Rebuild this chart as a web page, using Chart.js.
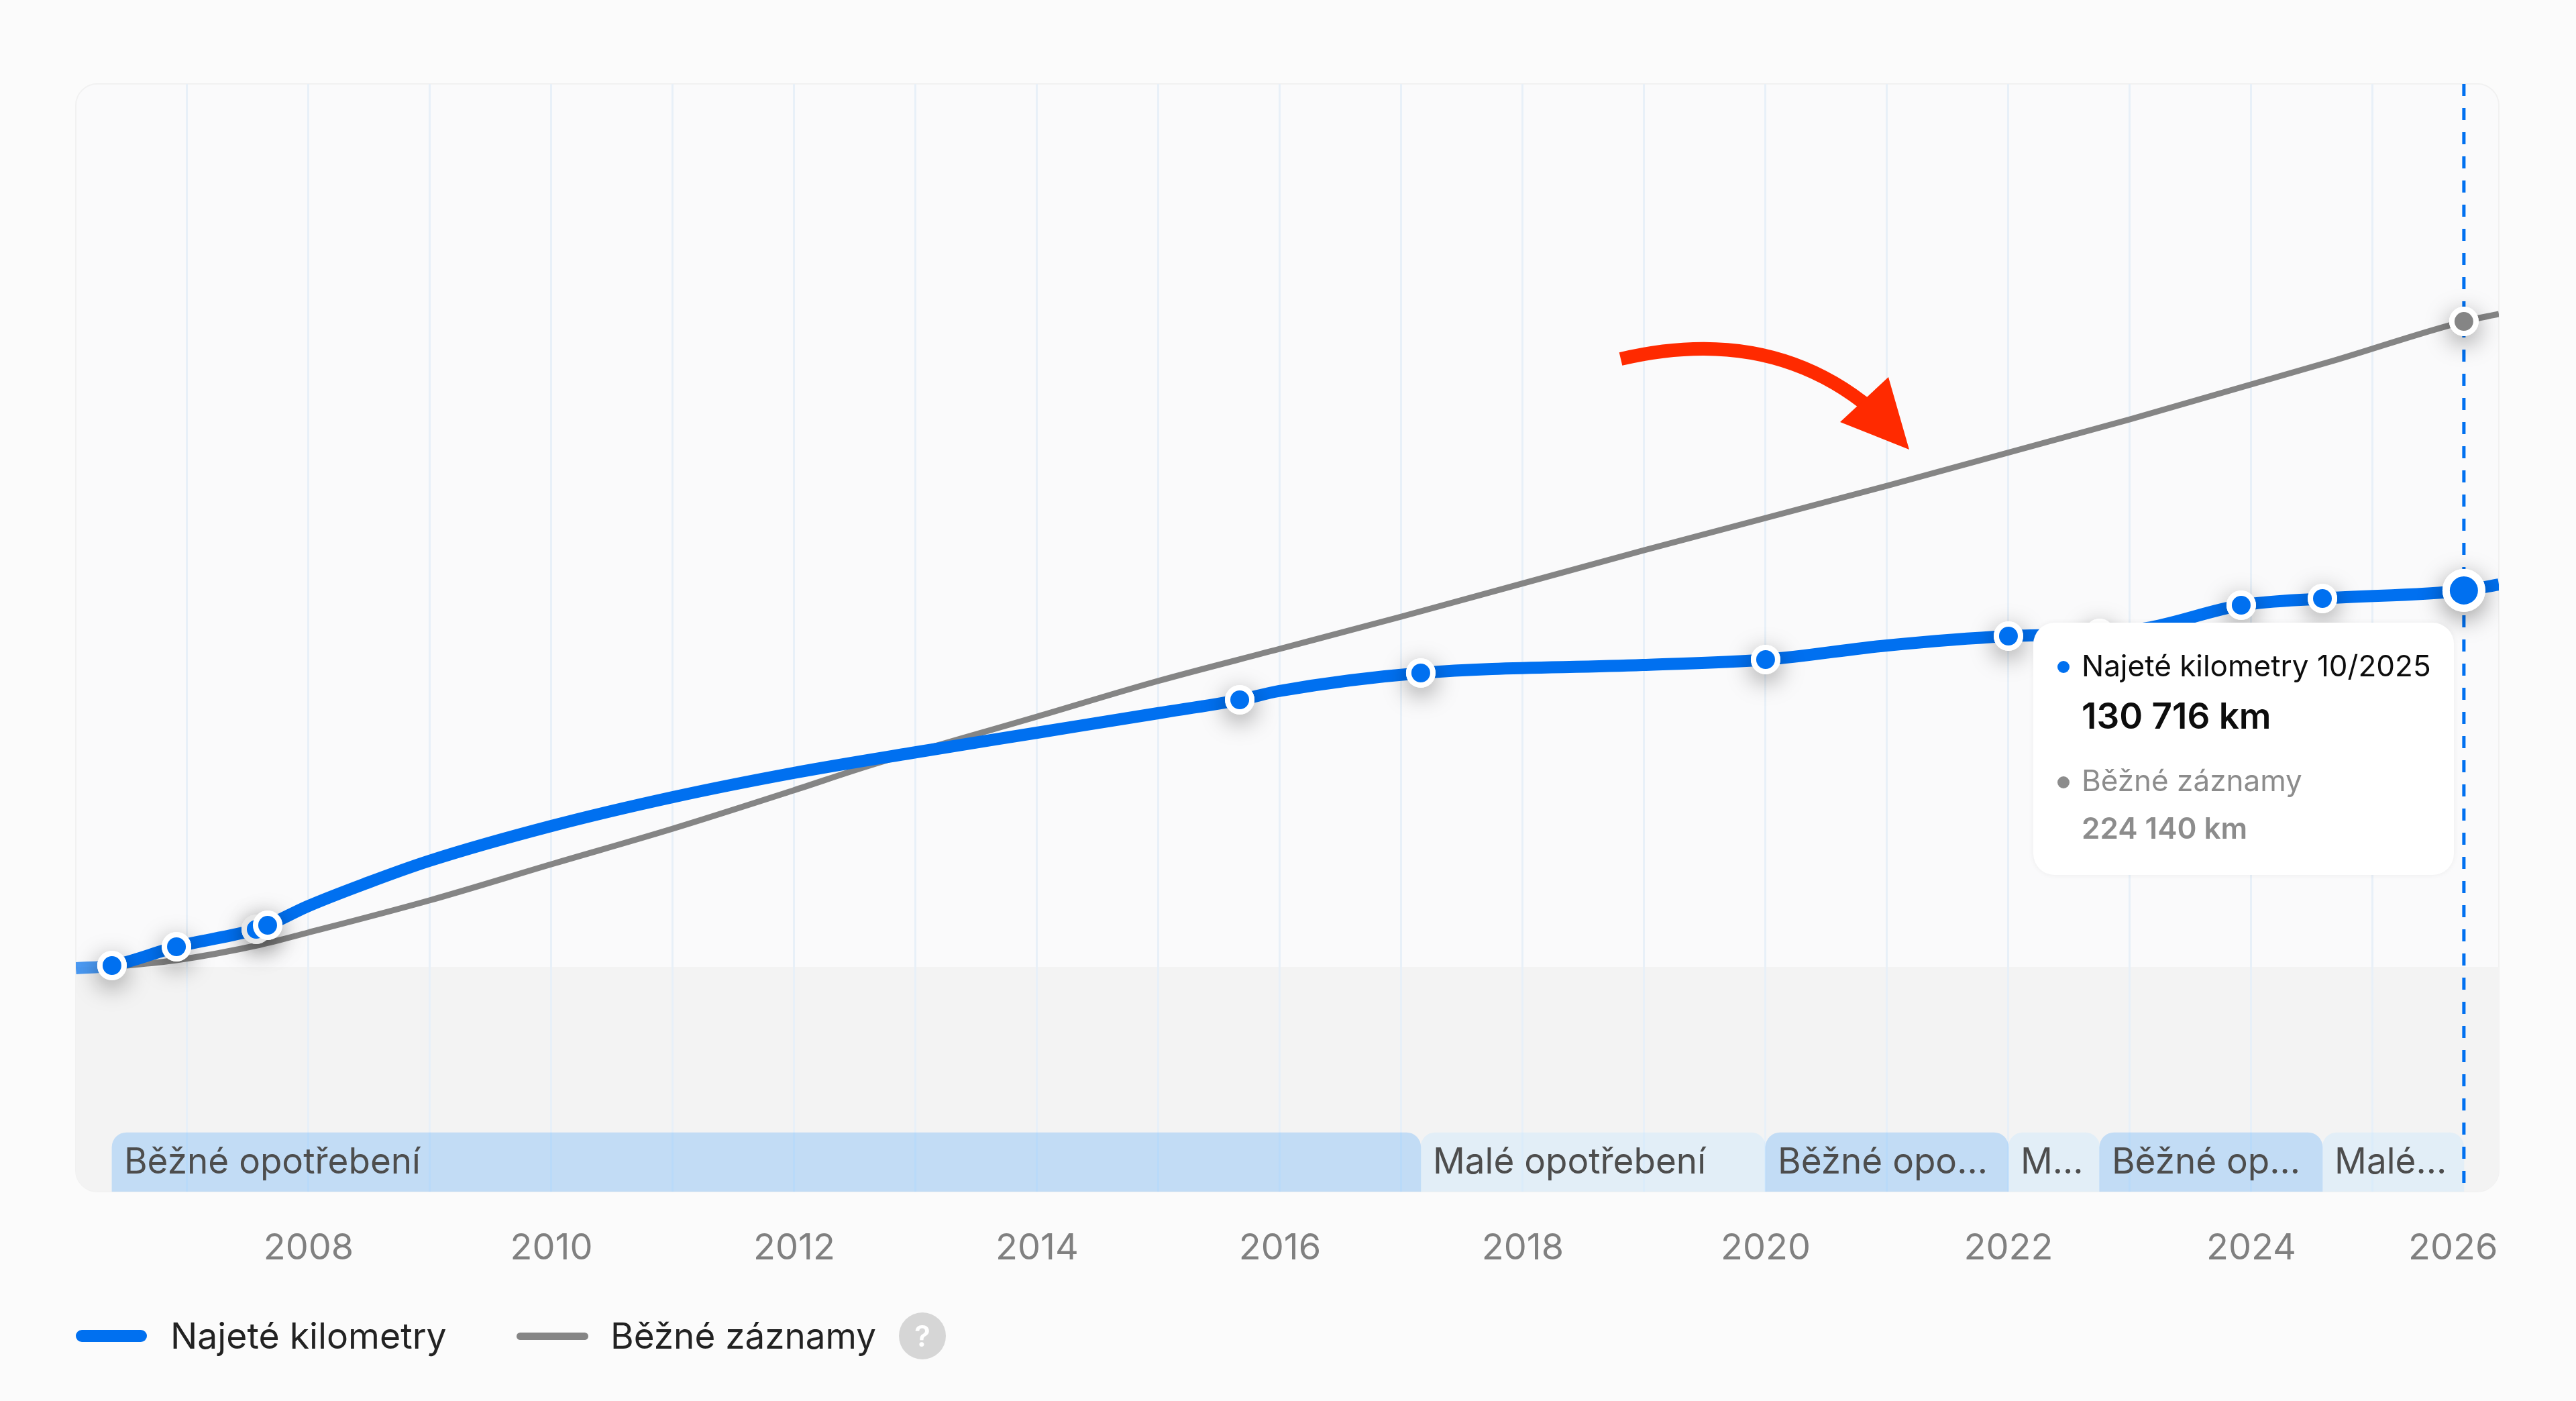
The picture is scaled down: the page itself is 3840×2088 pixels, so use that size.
<!DOCTYPE html>
<html lang="cs">
<head>
<meta charset="utf-8">
<title>Najeté kilometry</title>
<script src="https://cdn.jsdelivr.net/npm/chart.js@4"></script>
<style>
  html, body { margin: 0; padding: 0; width: 3840px; height: 2088px; overflow: hidden; background: #fbfbfb; font-family: Inter, sans-serif; }
  #graf { position: absolute; left: 0; top: 0; }
  .txt { position: absolute; white-space: nowrap; line-height: 60px; }
  #bublina { position: absolute; left: 3031px; top: 928px; width: 627px; height: 376px; background: #fff; border-radius: 32px; box-shadow: 0 0 8px rgba(0,0,0,.06); }
  .tecka { position: absolute; width: 18px; height: 18px; border-radius: 50%; }
  .vzorek { position: absolute; border-radius: 9px; }
  #sipka { position: absolute; left: 0; top: 0; }
</style>
</head>
<body>
<canvas id="graf" width="3840" height="2088"></canvas>

<svg id="sipka" width="3840" height="2088">
  <path d="M2416 535 C2535 507 2670 510 2790 610" fill="none" stroke="#ff2a00" stroke-width="20"/>
  <polygon points="2815,562 2846,670 2743,629" fill="#ff2a00"/>
</svg>

<div id="bublina"></div>
<div class="tecka" style="left:3067px;top:985px;background:#0070f0"></div>
<div class="tecka" style="left:3067px;top:1157px;background:#8c8c8c"></div>
<div class="txt" style="left:3103px;top:962px;font-size:44px;color:#0d0d0d">Najeté kilometry 10/2025</div>
<div class="txt" style="left:3103px;top:1037px;font-size:53px;font-weight:600;color:#0d0d0d">130 716 km</div>
<div class="txt" style="left:3103px;top:1133px;font-size:44px;color:#8c8c8c">Běžné záznamy</div>
<div class="txt" style="left:3103px;top:1204px;font-size:44px;font-weight:600;color:#8c8c8c">224 140 km</div>

<div class="vzorek" style="left:113px;top:1982px;width:106px;height:18px;background:#0070f0"></div>
<div class="txt" style="left:254px;top:1961px;font-size:53.5px;color:#222">Najeté kilometry</div>
<div class="vzorek" style="left:770px;top:1986px;width:107px;height:11px;background:#858585"></div>
<div class="txt" style="left:910px;top:1961px;font-size:53px;color:#222">Běžné záznamy</div>
<div style="position:absolute;left:1340px;top:1956px;width:70px;height:70px;border-radius:50%;background:#d6d6d6;color:#fff;font-size:44px;font-weight:600;line-height:70px;text-align:center">?</div>

<script>
// osa X, roky
const tickYears = [2007, 2008, 2009, 2010, 2011, 2012, 2013, 2014, 2015, 2016, 2017, 2018, 2019, 2020, 2021, 2022, 2023, 2024, 2025, 2026];
const osaOd = 2006.083;
const osaDo = 2026.039;
const kmOd = -78055;
const kmDo = 306628;

// najete kilometry - krivka
const mileageYears = [2006.083, 2006.381, 2006.912, 2007.569, 2007.663, 2007.989, 2008.481, 2008.994, 2010.0, 2011.0, 2011.994, 2012.972, 2014.0, 2014.994, 2015.669, 2015.989, 2017.16, 2018.989, 2020.0, 2021.0, 2022.0, 2022.751, 2023.171, 2023.917, 2024.586, 2025.751, 2026.039];
const mileageKm = [-466, 466, 6990, 13048, 14446, 20970, 29125, 36814, 48930, 58949, 67337, 74327, 81317, 88074, 92734, 95763, 102054, 104850, 106714, 111607, 114869, 115801, 117898, 125587, 127917, 130716, 132810];

// bezne zaznamy
const normalYears = [2006.381, 2006.912, 2007.602, 2007.994, 2008.994, 2010.0, 2011.0, 2011.994, 2012.602, 2014.0, 2014.994, 2015.989, 2017.0, 2019.0, 2021.0, 2023.0, 2024.669, 2025.751, 2026.039];
const normalKm = [0, 2330, 7689, 11883, 23067, 35649, 47998, 61279, 69667, 86909, 99258, 110325, 121626, 144693, 167061, 190128, 210399, 224140, 226709];

// zaznamy s teckou
const recordYears = [2006.381, 2006.912, 2007.569, 2007.663, 2015.669, 2017.16, 2020.0, 2022.0, 2022.751, 2023.917, 2024.586, 2025.751];
const recordKm = [466, 6990, 13048, 14446, 92734, 102054, 106714, 114869, 115801, 125587, 127917, 130716];

// pruh opotrebeni
const wearStarts = [2006.381, 2017.16, 2020.0, 2022.0, 2022.751, 2024.586];
const wearEnds = [2017.16, 2020.0, 2022.0, 2022.751, 2024.586, 2025.751];
const wearLabels = ['Běžné opotřebení', 'Malé opotřebení', 'Běžné opo...', 'M...', 'Běžné op...', 'Malé...'];
const wearKinds = ['bezne', 'male', 'bezne', 'male', 'bezne', 'male'];
const wearBandKm = -67803;

const hoverYear = 2025.751;
const hoverNormalKm = 224140;

const modra = '#0070f0';
const seda = '#858585';

function doPar(roky, hodnoty) {
    return roky.map((r, i) => ({x: r, y: hodnoty[i]}));
}

// karta a sede pozadi pod nulou
const pozadiPlugin = {
    id: 'pozadi',
    beforeDraw(chart) {
        const {ctx, chartArea: a, scales} = chart;
        const nula = scales.y.getPixelForValue(0);
        ctx.save();
        ctx.beginPath();
        ctx.roundRect(a.left, a.top, a.right - a.left, a.bottom - a.top, 32);
        ctx.fillStyle = '#fafafb';
        ctx.fill();
        ctx.strokeStyle = '#f1f1f1';
        ctx.lineWidth = 2;
        ctx.stroke();
        ctx.clip();
        ctx.fillStyle = '#f3f3f3';
        ctx.fillRect(a.left, nula, a.right - a.left, a.bottom - nula);
        ctx.restore();
    }
};

// stin pod teckami, jen pro bile podklady
const stinPlugin = {
    id: 'stin',
    beforeDatasetDraw(chart, args) {
        if (chart.data.datasets[args.index].stin) {
            chart.ctx.save();
            chart.ctx.shadowColor = 'rgba(0,0,0,0.4)';
            chart.ctx.shadowBlur = 36;
            chart.ctx.shadowOffsetY = 10;
        }
    },
    afterDatasetDraw(chart, args) {
        if (chart.data.datasets[args.index].stin) {
            chart.ctx.restore();
        }
    }
};

// popisky v pruhu
const popiskyPlugin = {
    id: 'popisky',
    afterDatasetsDraw(chart) {
        const {ctx, scales} = chart;
        const y = scales.y.getPixelForValue(wearBandKm) + 17;
        ctx.save();
        ctx.font = '53px Inter';
        ctx.fillStyle = '#4d4d4d';
        ctx.textBaseline = 'alphabetic';
        wearLabels.forEach((t, i) => {
            ctx.fillText(t, scales.x.getPixelForValue(wearStarts[i]) + 18, y);
        });
        ctx.restore();
    }
};

const posledni = recordYears.length - 1;

new Chart(document.getElementById('graf'), {
    type: 'line',
    data: {
        datasets: [
            {
                type: 'bar',
                indexAxis: 'y',
                order: 8,
                data: wearStarts.map((s, i) => ({x: [s, wearEnds[i]], y: wearBandKm})),
                backgroundColor: wearKinds.map(k => k === 'bezne' ? 'rgba(0,130,255,0.2)' : 'rgba(195,230,255,0.35)'),
                barThickness: 88,
                grouped: false,
                borderSkipped: false,
                borderRadius: {topLeft: 22, topRight: 22, bottomLeft: 0, bottomRight: 0}
            },
            {
                label: 'Kurzor',
                order: 7,
                data: doPar([hoverYear, hoverYear], [kmDo, kmOd]),
                borderColor: modra,
                borderWidth: 5,
                borderDash: [18, 18],
                pointRadius: 0
            },
            {
                label: 'Běžné záznamy',
                order: 6,
                data: doPar(normalYears, normalKm),
                borderColor: seda,
                borderWidth: 9,
                cubicInterpolationMode: 'monotone',
                pointRadius: 0
            },
            {
                label: 'Najeté kilometry',
                order: 5,
                data: doPar(mileageYears, mileageKm),
                borderColor: modra,
                borderWidth: 18,
                cubicInterpolationMode: 'monotone',
                pointRadius: 0,
                segment: {
                    borderColor: c => c.p1DataIndex === 1 ? 'rgba(0,112,240,0.7)' : modra
                }
            },
            {
                label: 'Běžné stín',
                order: 4,
                stin: true,
                showLine: false,
                data: doPar([hoverYear], [hoverNormalKm]),
                pointRadius: 22,
                pointBorderWidth: 0,
                pointBackgroundColor: '#fff'
            },
            {
                label: 'Záznamy stín',
                order: 3,
                stin: true,
                showLine: false,
                data: doPar(recordYears, recordKm),
                pointRadius: c => c.dataIndex === posledni ? 32 : 22,
                pointBorderWidth: 0,
                pointBackgroundColor: '#fff'
            },
            {
                label: 'Běžné bod',
                order: 2,
                showLine: false,
                data: doPar([hoverYear], [hoverNormalKm]),
                pointRadius: 18,
                pointBorderWidth: 8,
                pointBackgroundColor: seda,
                pointBorderColor: '#fff'
            },
            {
                label: 'Záznamy',
                order: 1,
                showLine: false,
                data: doPar(recordYears, recordKm),
                pointRadius: c => c.dataIndex === posledni ? 26.5 : 18,
                pointBorderWidth: c => c.dataIndex === posledni ? 11 : 8,
                pointBackgroundColor: modra,
                // druha tecka v roce 2007 je ve stinu te dalsi
                pointBorderColor: c => c.dataIndex === 2 ? '#e6e6e6' : '#fff'
            }
        ]
    },
    options: {
        responsive: false,
        animation: false,
        devicePixelRatio: 1,
        events: [],
        layout: {padding: {left: 113, right: 115, top: 125, bottom: 152}},
        plugins: {legend: {display: false}, tooltip: {enabled: false}},
        scales: {
            x: {
                type: 'linear',
                min: osaOd,
                max: osaDo,
                // posledni popisek je u praveho okraje karty
                afterBuildTicks: s => { s.ticks = tickYears.map(v => ({value: v === 2026 ? 2026.03 : v})); },
                afterFit: s => { s.height = 160; },
                border: {display: false},
                grid: {
                    drawTicks: false,
                    lineWidth: 3,
                    color: c => c.tick && c.tick.value >= 2026 ? 'transparent' : '#e8f0f8'
                },
                ticks: {
                    autoSkip: false,
                    maxRotation: 0,
                    align: 'inner',
                    padding: 52,
                    color: '#808080',
                    font: {family: 'Inter', size: 54},
                    callback: v => Math.floor(v) % 2 === 0 ? String(Math.floor(v)) : ''
                }
            },
            y: {
                type: 'linear',
                display: false,
                offset: false,
                grid: {offset: false},
                min: kmOd,
                max: kmDo
            }
        }
    },
    plugins: [pozadiPlugin, stinPlugin, popiskyPlugin]
});
</script>
</body>
</html>
